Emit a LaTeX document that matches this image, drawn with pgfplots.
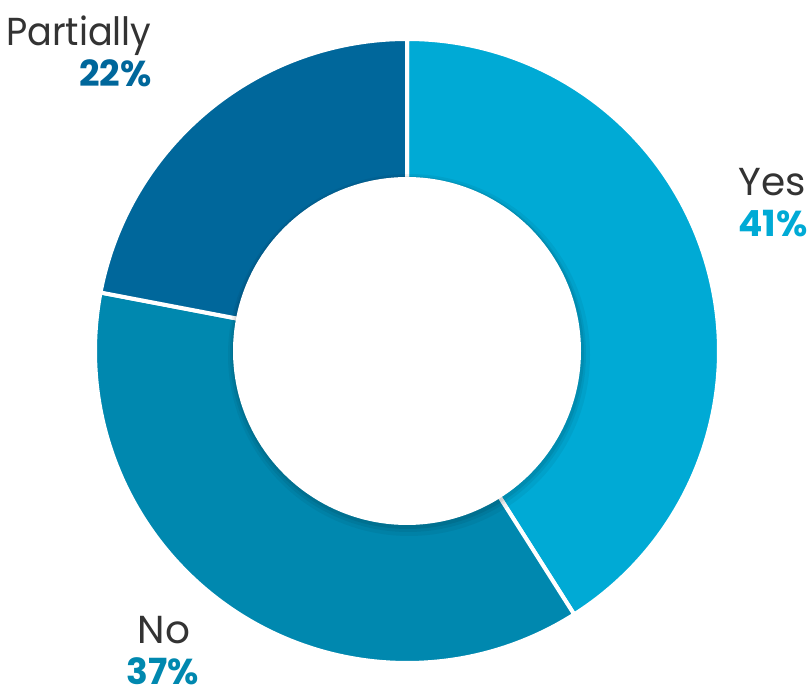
\documentclass[border=0pt]{standalone}
\usepackage{pgfplots}
\pgfplotsset{compat=1.18}
\usepackage{fontspec}
\setmainfont{Poppins}
\newfontfamily\narrowfont[FakeStretch=0.94]{Poppins}
\definecolor{cyes}{RGB}{0,170,213}
\definecolor{cno}{RGB}{0,136,175}
\definecolor{cpart}{RGB}{0,103,155}
\definecolor{tgray}{RGB}{51,51,51}
\begin{document}
\begin{tikzpicture}
\begin{axis}[width=404pt,height=347.5pt,scale only axis,hide axis,
  xmin=0,xmax=808,ymin=0,ymax=695,clip=false]
\def\vYes{41}\def\vNo{37}\def\vPart{22}
\pgfmathsetmacro\aA{90}
\pgfmathsetmacro\aB{90-3.6*\vYes}
\pgfmathsetmacro\aC{\aB-3.6*\vNo}
\pgfmathsetmacro\aD{\aC-3.6*\vPart}
\addplot[draw=white, line width=2pt, fill=cyes, domain=\aB:\aA, samples=150, variable=\t]
  ({407+312*cos(t)},{344+312*sin(t)}) -- (407,344) -- cycle;
\addplot[draw=white, line width=2pt, fill=cno, domain=\aC:\aB, samples=150, variable=\t]
  ({407+312*cos(t)},{344+312*sin(t)}) -- (407,344) -- cycle;
\addplot[draw=white, line width=2pt, fill=cpart, domain=\aD:\aC, samples=100, variable=\t]
  ({407+312*cos(t)},{344+312*sin(t)}) -- (407,344) -- cycle;
% soft shadow of the hole
\addplot[draw=none, fill=black, fill opacity=0.05, domain=0:360, samples=180, variable=\t]
  ({409+181*cos(t)},{340+181*sin(t)}) -- cycle;
\addplot[draw=none, fill=black, fill opacity=0.06, domain=0:360, samples=180, variable=\t]
  ({408+178*cos(t)},{341+178*sin(t)}) -- cycle;
\addplot[draw=none, fill=black, fill opacity=0.07, domain=0:360, samples=180, variable=\t]
  ({408+176*cos(t)},{342+176*sin(t)}) -- cycle;
\addplot[draw=none, fill=white, domain=0:360, samples=180, variable=\t]
  ({407+174*cos(t)},{344+174*sin(t)}) -- cycle;
% labels
\node[anchor=base east, inner sep=0, text=tgray, font=\narrowfont\fontsize{19.5}{23}\selectfont] at (axis cs:152,649) {Partially};
\node[anchor=base east, inner sep=0, text=cpart, font=\fontsize{18}{22}\selectfont\bfseries] at (axis cs:152,608) {22\%};
\node[anchor=base west, inner sep=0, text=tgray, font=\fontsize{19.5}{23}\selectfont] at (axis cs:738,499) {Yes};
\node[anchor=base west, inner sep=0, text=cyes, font=\fontsize{18}{22}\selectfont\bfseries] at (axis cs:738,458) {41\%};
\node[anchor=base, inner sep=0, text=tgray, font=\fontsize{19.5}{23}\selectfont] at (axis cs:164,51) {No};
\node[anchor=base, inner sep=0, text=cno, font=\fontsize{18}{22}\selectfont\bfseries] at (axis cs:163,10) {37\%};
\end{axis}
\pgfresetboundingbox
\path (current axis.south west) rectangle (current axis.north east);
\end{tikzpicture}
\end{document}
